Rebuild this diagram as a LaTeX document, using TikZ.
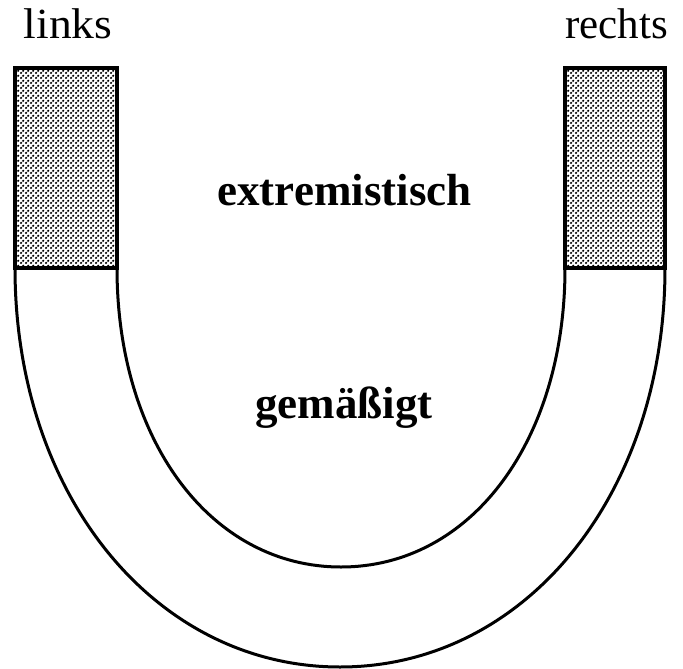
\documentclass[tikz,border=0pt]{standalone}
\usepackage{fontspec}
\setmainfont{Liberation Serif}
\usetikzlibrary{patterns.meta}
\tikzdeclarepattern{
  name=halftone,
  type=uncolored,
  bounding box={(0,0) and (5pt,5pt)},
  tile size={(5pt,5pt)},
  code={
    \fill (1.25pt,1.25pt) circle (1.45pt);
    \fill (3.75pt,3.75pt) circle (1.45pt);
  }
}
\tikzset{
  edge/.style={line width=3pt, line join=miter},
  shadebox/.style={line width=3.4pt, line join=miter, pattern={halftone}, pattern color=black},
  sidelabel/.style={font=\fontsize{43}{48}\selectfont, inner sep=0pt, anchor=base},
  zonelabel/.style={font=\bfseries\fontsize{45}{52}\selectfont, inner sep=0pt, anchor=base}
}
\begin{document}
\begin{tikzpicture}[x=1pt,y=-1pt]
  \useasboundingbox (0,0) rectangle (683,669);
  % shaded extremist bars
  \draw[shadebox] (15,68) rectangle (117,268);
  \draw[shadebox] (565,68) rectangle (665,268);
  % U-shaped moderate band
  \draw[edge] (15,268) .. controls (15,495) and (155,667) .. (340,667)
                       .. controls (525,667) and (665,495) .. (665,268);
  \draw[edge] (117,268) .. controls (117,441) and (211,567) .. (341,567)
                        .. controls (471,567) and (565,441) .. (565,268);
  % labels
  \node[sidelabel] (links) at (68,39) {\addfontfeature{FakeStretch=1.06}links};
  \node[sidelabel] (rechts) at (616.5,39) {rechts};
  \node[zonelabel] (extrem) at (344.5,205) {extremistisch};
  \node[zonelabel] (gemaess) at (344,418) {gemäßigt};
\end{tikzpicture}
\end{document}
